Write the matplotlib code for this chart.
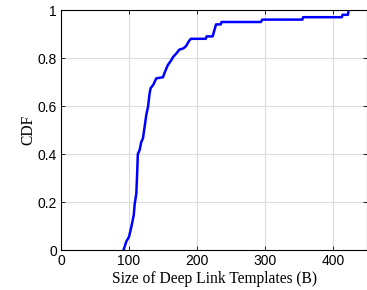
import matplotlib
matplotlib.use("Agg")
import matplotlib.pyplot as plt

# vertices of the CDF curve
sizes = [92, 96, 100, 103.5, 107, 108.3, 110.8, 112, 113, 115.7, 118, 120.5, 123, 125.4,
         128, 130.3, 131.8, 136, 140, 150, 152, 157, 162, 165, 170, 174, 180, 184, 188,
         191, 213, 214, 223, 226, 228, 235, 236, 294, 296, 355, 356, 413, 414, 422, 423]
cdf = [0.0, 0.035, 0.055, 0.097, 0.146, 0.19, 0.236, 0.32, 0.40, 0.417, 0.45, 0.465, 0.514, 0.5625,
       0.597, 0.653, 0.674, 0.69, 0.715, 0.72, 0.736, 0.77, 0.79, 0.805, 0.82, 0.835, 0.84, 0.85, 0.87,
       0.88, 0.88, 0.89, 0.89, 0.92, 0.94, 0.94, 0.95, 0.95, 0.96, 0.96, 0.97, 0.97, 0.98, 0.98, 1.0]

x_ticks = [0, 100, 200, 300, 400]
y_ticks = [0, 0.2, 0.4, 0.6, 0.8, 1.0]
y_tick_labels = ["0", "0.2", "0.4", "0.6", "0.8", "1"]

fig = plt.figure(figsize=(3.67, 2.90), dpi=100)
ax = fig.add_axes([61 / 367, 40 / 290, 306 / 367, 240 / 290])

ax.plot(sizes, cdf, color="#0000ff", linewidth=1.8)

ax.set_xlim(0, 450)
ax.set_ylim(0, 1)
ax.set_xticks(x_ticks)
ax.set_yticks(y_ticks)
ax.set_yticklabels(y_tick_labels)
ax.grid(True, color="#dcdcdc", linewidth=0.8)
ax.set_axisbelow(True)
ax.tick_params(direction="in", top=True, right=True, length=3, width=0.6,
               labelsize=10, pad=3)
for lab in ax.get_xticklabels() + ax.get_yticklabels():
    lab.set_fontfamily("Liberation Sans")
for s in ax.spines.values():
    s.set_linewidth(0.8)

ax.set_xlabel("Size of Deep Link Templates (B)", fontfamily="Liberation Serif",
              fontsize=11.2, labelpad=2)
ax.set_ylabel("CDF", fontfamily="Liberation Serif", fontsize=11.2, labelpad=1)

fig.savefig("out.png", dpi=100)
